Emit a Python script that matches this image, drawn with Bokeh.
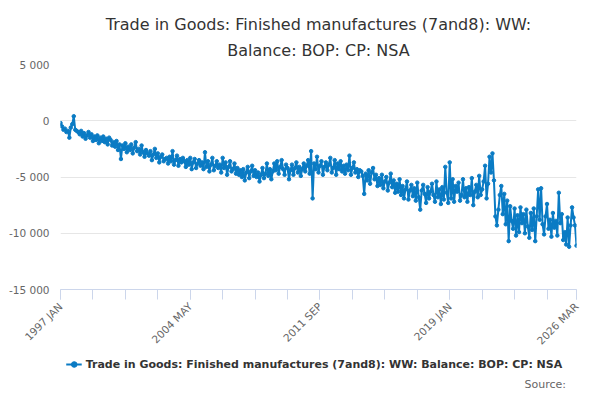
from bokeh.plotting import figure
from bokeh.layouts import column
from bokeh.models import Title, Legend, LegendItem, FixedTicker, CustomJSTickFormatter, Range1d
from bokeh.core.properties import value
from bokeh.embed import file_html
from bokeh.resources import INLINE
import math

values = [
-200,-500,-800,-700,-1000,-900,-1500,-600,-300,400,-800,-900,
-1000,-1200,-900,-1400,-1100,-1600,-1300,-1000,-1500,-1200,-1800,-1400,
-1700,-1300,-2000,-1500,-1800,-1400,-1900,-1600,-2100,-1500,-1700,-2200,
-1900,-2300,-1800,-2600,-2100,-3400,-2200,-2500,-2000,-2800,-2300,-2600,
-2100,-2900,-2400,-1900,-2700,-2500,-3000,-2200,-2800,-3200,-2600,-2900,
-3100,-2700,-3500,-3000,-2500,-3300,-2900,-3700,-3200,-3000,-3600,-3400,
-3300,-3800,-3200,-3600,-2700,-3900,-3500,-3100,-4000,-3400,-3700,-3300,
-3600,-4100,-3500,-3900,-3300,-4300,-3700,-3400,-4200,-3800,-3500,-4000,
-3700,-4300,-2800,-4100,-3600,-4500,-3900,-3300,-4400,-4000,-3600,-4200,
-3900,-4600,-3300,-4200,-3700,-4800,-4100,-3600,-4500,-4300,-3800,-4700,
-4200,-4800,-4400,-5000,-4300,-5300,-4600,-4100,-5100,-4500,-4000,-4900,
-4400,-5000,-4600,-5400,-4800,-4200,-5100,-4700,-3800,-4900,-4300,-5200,
-4500,-3800,-4400,-3600,-4700,-4100,-3500,-4300,-4800,-3900,-4200,-5200,
-4400,-3900,-4800,-4200,-3700,-4600,-4100,-4900,-4300,-3800,-4500,-4000,
-3500,-4700,-2700,-6900,-3800,-4300,-3200,-4600,-4000,-3600,-4800,-4100,
-3700,-4400,-3900,-3300,-4600,-4200,-3500,-4800,-3800,-4300,-3600,-4500,
-4000,-4700,-3900,-4400,-3100,-4800,-4200,-3700,-4600,-4300,-5000,-4400,
-4500,-4900,-6500,-4700,-5300,-4400,-5600,-4600,-4200,-5200,-4800,-5800,
-5100,-5700,-4800,-6000,-5400,-5000,-6200,-5500,-4700,-5900,-5300,-6400,
-5600,-6300,-5200,-6600,-5800,-6900,-6100,-5400,-7000,-6200,-5700,-6700,
-6000,-7100,-5500,-6800,-7900,-6200,-5700,-6500,-7300,-5900,-6900,-6300,
-5600,-6600,-7200,-5400,-6800,-6100,-7400,-5900,-7000,-4100,-6400,-7300,
-3700,-6900,-5200,-7200,-5800,-6300,-5500,-7100,-6600,-5200,-6800,-6000,
-7200,-5900,-6600,-5100,-7500,-6300,-5700,-6800,-4900,-6600,-6100,-5400,
-4000,-6900,-5600,-3200,-4600,-2900,-5300,-8500,-9300,-7900,-6600,-5800,
-8300,-6500,-9200,-7100,-10700,-7600,-8900,-9600,-7800,-10200,-8400,-9900,
-7700,-9100,-8300,-10000,-7900,-9400,-10400,-8200,-9700,-7800,-10700,-8500,
-6100,-8800,-6000,-9200,-10100,-8500,-7400,-9600,-8800,-10300,-8200,-9500,
-8900,-10200,-6400,-9100,-8300,-10600,-9900,-11000,-8600,-11200,-9300,-7700,
-8600,-9300,-11100]
months = ["JAN","FEB","MAR","APR","MAY","JUN","JUL","AUG","SEP","OCT","NOV","DEC"]
labels = [f"{1997 + i // 12} {months[i % 12]}" for i in range(len(values))]
label_idx = [0, 88, 176, 264, 350]
minor_idx = list(range(0, 351, 22)) + [350]
y_ticks = [5000, 0, -5000, -10000, -15000]
series_name = "Trade in Goods: Finished manufactures (7and8): WW: Balance: BOP: CP: NSA"
title_lines = ["Trade in Goods: Finished manufactures (7and8): WW:", "Balance: BOP: CP: NSA"]
source_text = "Source:"

x = list(range(len(values)))
FONT = "DejaVu Sans"
col = "#0a7bc4"
p = figure(frame_width=516, frame_height=225, output_backend="svg", toolbar_location=None,
           x_range=Range1d(0, len(values) - 1), y_range=Range1d(-15000, 5000),
           min_border_left=60, min_border_right=8, min_border_top=0, min_border_bottom=0,
           title=None)
p.outline_line_color = None
p.line(x, values, line_color=col, line_width=2)
p.scatter(x, values, size=3.5, color=col)

for t, so in [(title_lines[1], 10), (title_lines[0], 0)]:
    p.add_layout(Title(text=t, align="center", text_font=FONT, text_font_size="16px",
                       text_font_style="normal", text_color="#333333",
                       standoff=so, offset=-4), "above")
p.add_layout(Title(text=" ", text_font_size="9px", standoff=0), "above")

p.yaxis.ticker = FixedTicker(ticks=y_ticks)
p.yaxis.formatter = CustomJSTickFormatter(code="return tick.toLocaleString('en-US').replace(/,/g,' ');")
p.yaxis.axis_line_color = None
p.yaxis.major_tick_line_color = None
p.yaxis.minor_tick_line_color = None
p.yaxis.major_label_text_font_size = "10.5px"
p.yaxis.major_label_text_color = "#666666"
p.yaxis.major_label_text_font = FONT

p.xaxis.ticker = FixedTicker(ticks=label_idx, minor_ticks=minor_idx)
p.xaxis.major_label_overrides = {i: labels[i] for i in label_idx}
p.xaxis.major_label_orientation = math.pi / 4
p.xaxis.axis_line_color = "#ccd6eb"
p.xaxis.major_tick_line_color = "#ccd6eb"
p.xaxis.minor_tick_line_color = "#ccd6eb"
p.xaxis.major_tick_out = 10
p.xaxis.major_tick_in = 0
p.xaxis.minor_tick_out = 10
p.xaxis.minor_tick_in = 0
p.xaxis.major_label_text_font_size = "10.5px"
p.xaxis.major_label_text_color = "#666666"
p.xaxis.major_label_text_font = FONT

p.xgrid.grid_line_color = None
p.ygrid.grid_line_color = "#e6e6e6"
p.ygrid.ticker = FixedTicker(ticks=y_ticks)

# legend strip
H2 = 36
p2 = figure(width=576, height=H2, output_backend="svg", toolbar_location=None,
            x_axis_type=None, y_axis_type=None, x_range=Range1d(0, 1), y_range=Range1d(0, 1),
            min_border=0)
p2.outline_line_color = None
p2.grid.grid_line_color = None
lr = p2.line([5, 6], [5, 6], line_color=col, line_width=2)
sr = p2.scatter([5], [5], size=3.5, color=col)
legend = Legend(items=[LegendItem(label=series_name, renderers=[lr, sr])],
                orientation="horizontal", border_line_color=None, background_fill_alpha=0,
                label_text_font=FONT, label_text_font_size="11px", label_text_font_style="bold",
                label_text_color="#333333", glyph_width=16, padding=0, margin=4,
                label_standoff=4, label_height=14, glyph_height=14, location="top_center")
p2.add_layout(legend, "center")
p2.text(x=[0.995], y=[0.15], text=[source_text], text_align="right", text_baseline="middle",
        text_font=value(FONT), text_font_size="11px", text_color="#666666")

open("out.html", "w").write(file_html(column(p, p2, spacing=0), INLINE))
